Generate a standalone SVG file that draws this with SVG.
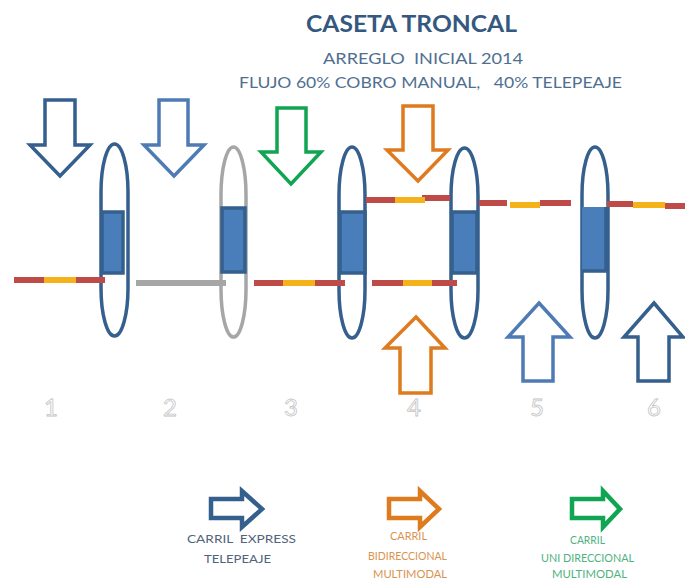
<svg xmlns="http://www.w3.org/2000/svg" width="685" height="579" viewBox="0 0 685 579">
<style>
text{font-family:"Lato","Liberation Sans",sans-serif;white-space:pre}
.title{font-weight:700;font-size:22px;fill:#34587f}
.sub{font-size:15.5px;fill:#4f6f91}
.num{font-size:24px;fill:#fff;stroke:#c4c4c4;stroke-width:.8;text-anchor:middle}
.leg{font-size:11.5px;fill:#51647c}
.leg2{font-size:10.5px}
.ar{fill:#fff;stroke-width:3.5;stroke-linejoin:miter}
.lg{fill:#fff;stroke-width:4.5}
.navy{stroke:#355f8d}.blue{stroke:#4f7bb5}.green{stroke:#0fa552}.orange{stroke:#de7b1e}
.pill{fill:#fff;stroke-width:3.5}
.box{fill:#4a7ebb;stroke:#355f8d;stroke-width:3.5}
.r{stroke:#be4b48;stroke-width:6;fill:none}
.y{stroke:#f5b31b;stroke-width:6;fill:none}
</style>
<rect width="685" height="579" fill="#fff"/>
<g id="title">
<text class="title" x="306" y="32" textLength="211" lengthAdjust="spacingAndGlyphs">CASETA TRONCAL</text>
<text class="sub" x="323" y="64" textLength="200" lengthAdjust="spacingAndGlyphs">ARREGLO  INICIAL 2014</text>
<text class="sub" x="239" y="88" textLength="383" lengthAdjust="spacingAndGlyphs">FLUJO 60% COBRO MANUAL,   40% TELEPEAJE</text>
</g>
<g id="booth-1"><rect class="pill navy" x="101" y="144" width="27" height="192" rx="13.5" ry="48"/><rect class="box" x="102" y="212" width="21" height="61"/></g>
<g id="booth-2"><rect class="pill" stroke="#a6a6a6" x="221" y="147" width="25" height="190" rx="12.5" ry="48"/><rect class="box" x="222" y="208" width="23" height="64"/></g>
<g id="booth-3"><rect class="pill navy" x="339" y="147" width="26" height="191" rx="13" ry="48"/><rect class="box" x="340" y="212" width="25" height="61"/></g>
<g id="booth-4"><rect class="pill navy" x="451" y="148" width="27" height="190" rx="13.5" ry="48"/><rect class="box" x="452" y="212" width="25" height="61"/></g>
<g id="booth-5"><rect class="pill navy" x="582" y="147" width="26" height="191" rx="13" ry="48"/><rect x="582" y="207" width="24" height="63" fill="#4a7ebb"/><path d="M582 271H607M606 207V271" fill="none" stroke="#355f8d" stroke-width="3.5"/></g>
<g id="connectors">
<path class="r" d="M14 280H44M76 280H105"/><path class="y" d="M44 280H76"/>
<path d="M136 283H226" stroke="#a6a6a6" stroke-width="6" fill="none"/>
<path class="r" d="M254 283H283M315 283H345"/><path class="y" d="M283 283H315"/>
<path class="r" d="M372 283H403M432 283H457"/><path class="y" d="M403 283H432"/>
<path class="r" d="M366 200H395M422 198H450"/><path class="y" d="M395 200H425"/>
<path class="r" d="M479 203H507M540 203H571"/><path class="y" d="M510 205H540"/>
<path class="r" d="M607 204H633M665 206H685"/><path class="y" d="M633 205H665"/>
</g>
<g id="arrow-1"><path class="ar navy" d="M45 100H75V145H90L60 176L30 145H45Z"/></g>
<g id="arrow-2"><path class="ar blue" d="M159 100H188V145H204L174 176L144 145H159Z"/></g>
<g id="arrow-3"><path class="ar green" d="M277 108H306V152H321L291 184L261 152H277Z"/></g>
<g id="arrow-4-top"><path class="ar orange" d="M403 106H433V150H448L418 181L387 150H403Z"/></g>
<g id="arrow-4-bottom"><path class="ar orange" d="M416 317L445 348H431V393H400V348H385Z"/></g>
<g id="arrow-5"><path class="ar blue" d="M539 303L570 337H553V381H523V337H508Z"/></g>
<g id="arrow-6"><path class="ar navy" d="M654 303L683 337H669V381H638V337H624Z"/></g>
<g id="numbers">
<text class="num" x="51" y="416">1</text><text class="num" x="170" y="416">2</text><text class="num" x="291" y="416">3</text><text class="num" x="414" y="416">4</text><text class="num" x="537" y="416">5</text><text class="num" x="654" y="416">6</text>
</g>
<g id="legend-express">
<path class="lg navy" d="M211 499H242V491L262 509L242 527V518H211Z"/>
<text class="leg" x="187" y="543" textLength="109" lengthAdjust="spacingAndGlyphs">CARRIL  EXPRESS</text>
<text class="leg" x="204" y="563" textLength="67" lengthAdjust="spacingAndGlyphs">TELEPEAJE</text>
</g>
<g id="legend-bidireccional">
<path class="lg orange" d="M389 499H420V491L439 509L420 527V518H389Z"/>
<text class="leg2" fill="#d9934f" x="390" y="540" textLength="37" lengthAdjust="spacingAndGlyphs">CARRIL</text>
<text class="leg2" fill="#d9934f" x="368" y="560" textLength="79" lengthAdjust="spacingAndGlyphs">BIDIRECCIONAL</text>
<text class="leg2" fill="#d9934f" x="373" y="578" textLength="74" lengthAdjust="spacingAndGlyphs">MULTIMODAL</text>
</g>
<g id="legend-unidireccional">
<path class="lg green" d="M572 499H603V491L620 509L603 527V518H572Z"/>
<text class="leg2" fill="#4fb27f" x="570" y="544" textLength="35" lengthAdjust="spacingAndGlyphs">CARRIL</text>
<text class="leg2" fill="#4fb27f" x="541" y="562" textLength="93" lengthAdjust="spacingAndGlyphs">UNI DIRECCIONAL</text>
<text class="leg2" fill="#4fb27f" x="552" y="578" textLength="75" lengthAdjust="spacingAndGlyphs">MULTIMODAL</text>
</g>
</svg>
